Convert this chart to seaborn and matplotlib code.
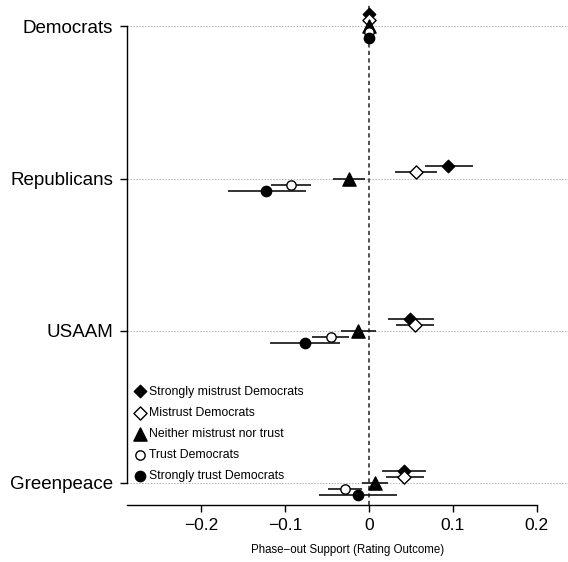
import matplotlib
matplotlib.use("Agg")
import matplotlib.pyplot as plt
import seaborn as sns
import pandas as pd
import numpy as np

# ---- data ----
sources = ["Democrats", "Republicans", "USAAM", "Greenpeace"]
groups = ["Strongly mistrust Democrats", "Mistrust Democrats",
          "Neither mistrust nor trust", "Trust Democrats",
          "Strongly trust Democrats"]
# estimates per group: order of sources
est_strong_mistrust = [0.0, 0.094, 0.049, 0.042]
lo_strong_mistrust = [0.0, 0.067, 0.023, 0.016]
hi_strong_mistrust = [0.0, 0.124, 0.077, 0.068]

est_mistrust = [0.0, 0.056, 0.055, 0.042]
lo_mistrust = [0.0, 0.031, 0.032, 0.020]
hi_mistrust = [0.0, 0.081, 0.078, 0.066]

est_neither = [0.0, -0.024, -0.013, 0.007]
lo_neither = [0.0, -0.043, -0.033, -0.008]
hi_neither = [0.0, -0.005, 0.008, 0.023]

est_trust = [0.0, -0.093, -0.045, -0.029]
lo_trust = [0.0, -0.116, -0.068, -0.049]
hi_trust = [0.0, -0.069, -0.024, -0.008]

est_strong_trust = [0.0, -0.122, -0.076, -0.013]
lo_strong_trust = [0.0, -0.168, -0.118, -0.059]
hi_strong_trust = [0.0, -0.075, -0.035, 0.033]

x_ticks = [-0.2, -0.1, 0, 0.1, 0.2]
x_ticklabels = ["\u22120.2", "\u22120.1", "0", "0.1", "0.2"]
x_label = "Phase\u2212out Support (Rating Outcome)"

ests = [est_strong_mistrust, est_mistrust, est_neither, est_trust, est_strong_trust]
los = [lo_strong_mistrust, lo_mistrust, lo_neither, lo_trust, lo_strong_trust]
his = [hi_strong_mistrust, hi_mistrust, hi_neither, hi_trust, hi_strong_trust]

rows = []
for k, g in enumerate(groups):
    for i, s in enumerate(sources):
        rows.append(dict(group=g, source=s, est=ests[k][i], lo=los[k][i], hi=his[k][i],
                         ypos=i + (k - 2) * 0.04))
df = pd.DataFrame(rows)

sns.set_theme(style="white")
plt.rcParams['font.family'] = ['Liberation Sans', 'DejaVu Sans']
plt.rcParams.update({"text.color": "black", "axes.labelcolor": "black",
                     "xtick.color": "black", "ytick.color": "black"})

fig = plt.figure(figsize=(5.68, 5.62), dpi=100)
ax = fig.add_axes([127 / 568, 57 / 562, 441 / 568, 500 / 562])

# gridlines
for i in range(len(sources)):
    ax.axhline(i, color="#b0b0b0", lw=0.7, ls=(0, (1.5, 1.5)), zorder=0)
ax.axvline(0, color="#333333", lw=1.2, ls=(0, (2.5, 2)), zorder=1)

markers = ["D", "D", "^", "o", "o"]
faces = ["black", "white", "black", "white", "black"]
sizes = [40, 45, 90, 45, 55]
for k, g in enumerate(groups):
    sub = df[df.group == g]
    ci = sub[sub.hi != sub.lo]
    ax.hlines(ci.ypos, ci.lo, ci.hi, color="#111111", lw=1.2, zorder=2)
    sns.scatterplot(data=sub, x="est", y="ypos", marker=markers[k], s=sizes[k],
                    color=faces[k], edgecolor="black", linewidth=1.0,
                    label=g, ax=ax, zorder=3)

ax.set_xlim(-0.288, 0.237)
ax.set_ylim(3.145, -0.14)
ax.set_yticks(range(len(sources)))
ax.set_yticklabels(sources, fontsize=13.5, color="black")
ax.set_xticks(x_ticks)
ax.set_xticklabels(x_ticklabels, fontsize=12.5, color="black")
ax.set_xlabel(x_label, fontsize=8.3, labelpad=8, color="black")
ax.set_ylabel("")

for sp in ["top", "right"]:
    ax.spines[sp].set_visible(False)
ax.spines["left"].set_bounds(0, 3)
ax.spines["bottom"].set_bounds(-0.288, 0.2)
for sp in ["left", "bottom"]:
    ax.spines[sp].set_color("black")
    ax.spines[sp].set_linewidth(1.0)
ax.tick_params(axis="both", which="major", length=5, width=1.0, color="black",
               direction="out", left=True, bottom=True)
ax.tick_params(axis="y", pad=5)
ax.tick_params(axis="x", pad=4)

leg = ax.legend(loc="upper left", bbox_to_anchor=(0.0, 0.246), frameon=False,
                fontsize=8.8, handletextpad=0.0, labelspacing=0.74,
                borderaxespad=0.0, borderpad=0.3, handlelength=1.5, markerscale=1.0)
for t in leg.get_texts():
    t.set_color("black")

fig.savefig("out.png", dpi=100, facecolor="white")
